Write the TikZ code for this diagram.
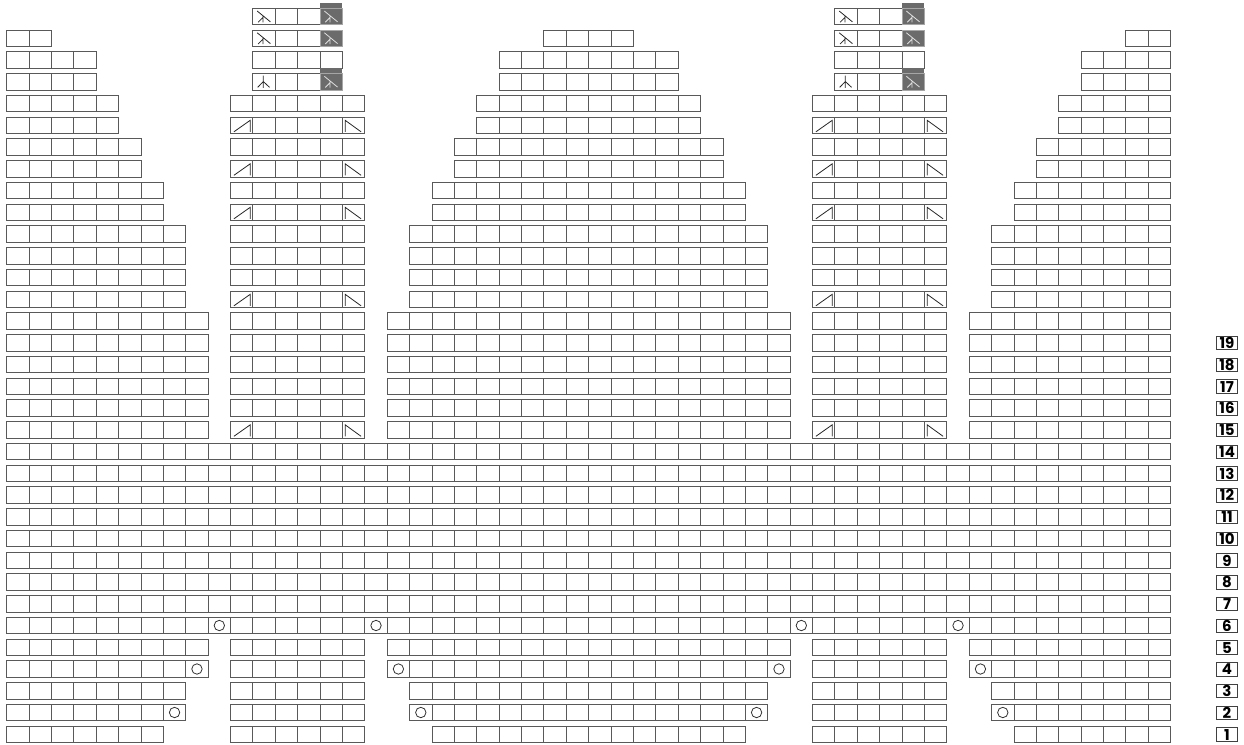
\documentclass[tikz,border=0pt]{standalone}
\usepackage{fontspec}
\newfontfamily\lblfont{Poppins}
\tikzset{
  cellbox/.style={draw=black!65, line width=0.9pt},
  symb/.style={draw=black!85, line width=0.8pt},
  darkfill/.style={fill=black!58},
  darkborder/.style={draw=black!35, line width=0.9pt},
  darksymb/.style={draw=black!12, line width=0.8pt},
  yo/.style={draw=black!80, line width=0.8pt},
  lblbox/.style={draw=black!75, line width=0.9pt, inner sep=0pt,
    minimum width=21pt, minimum height=13.5pt,
    font=\lblfont\bfseries\fontsize{15}{15}\selectfont},
}
\newcommand\seg[3]{\foreach \cc in {#2,...,#3}{\draw[cellbox] ({6.67+22.385*\cc},{726-(#1-1)*21.75}) rectangle ++(22.385,16.5);}}
\newcommand\incell[3]{\begin{scope}[shift={({6.67+22.385*#2},{726-(#1-1)*21.75})}]#3\end{scope}}
\newcommand\decR[2]{\incell{#1}{#2}{\draw[symb] (3.4,14.8) -- (19.7,3.3) -- (19.7,14.8);}}
\newcommand\decL[2]{\incell{#1}{#2}{\draw[symb] (2.7,14.8) -- (2.7,3.3) -- (18.6,14.8);}}
\newcommand\ddecsym[1]{\draw[#1] (4.3,2.8) -- (17.5,13.6) (10,8.2) -- (10,14.2) (10,9.2) -- (5.2,14);}
\newcommand\ddecL[2]{\incell{#1}{#2}{\ddecsym{symb}}}
\newcommand\ddecC[2]{\incell{#1}{#2}{\draw[symb] (10.4,2) -- (10.4,14.3) (10.4,8) -- (4.8,13.8) (10.4,8) -- (16.6,13.8);}}
\newcommand\darkc[3]{\incell{#1}{#2}{\fill[darkfill] (0,-#3) rectangle (22.385,16.5); \draw[darkborder] (0,0) rectangle (22.385,16.5); \ddecsym{darksymb}}}
\newcommand\yarn[2]{\incell{#1}{#2}{\draw[yo] (11.2,8.25) circle (5.2);}}
\begin{document}
\begin{tikzpicture}[x=1pt,y=-1pt]
\useasboundingbox (0,0) rectangle (1244,744);
% row 1
\seg{1}{0}{6}\seg{1}{10}{15}\seg{1}{19}{32}\seg{1}{36}{41}\seg{1}{45}{51}
\foreach \r in {2,3,21,22,23,24}{\seg{\r}{0}{7}\seg{\r}{10}{15}\seg{\r}{18}{33}\seg{\r}{36}{41}\seg{\r}{44}{51}}
\foreach \r in {4,5,15,16,17,18,19,20}{\seg{\r}{0}{8}\seg{\r}{10}{15}\seg{\r}{17}{34}\seg{\r}{36}{41}\seg{\r}{43}{51}}
\foreach \r in {6,...,14}{\seg{\r}{0}{51}}
\foreach \r in {25,26}{\seg{\r}{0}{6}\seg{\r}{10}{15}\seg{\r}{19}{32}\seg{\r}{36}{41}\seg{\r}{45}{51}}
\foreach \r in {27,28}{\seg{\r}{0}{5}\seg{\r}{10}{15}\seg{\r}{20}{31}\seg{\r}{36}{41}\seg{\r}{46}{51}}
\foreach \r in {29,30}{\seg{\r}{0}{4}\seg{\r}{10}{15}\seg{\r}{21}{30}\seg{\r}{36}{41}\seg{\r}{47}{51}}
\foreach \r in {31,32}{\seg{\r}{0}{3}\seg{\r}{11}{14}\seg{\r}{22}{29}\seg{\r}{37}{40}\seg{\r}{48}{51}}
\seg{33}{0}{1}\seg{33}{11}{14}\seg{33}{24}{27}\seg{33}{37}{40}\seg{33}{50}{51}
\seg{34}{11}{14}\seg{34}{37}{40}
% decreases
\foreach \r in {15,21,25,27,29}{\decR{\r}{10}\decL{\r}{15}\decR{\r}{36}\decL{\r}{41}}
% double decreases
\foreach \c in {11,37}{\ddecC{31}{\c}\ddecL{33}{\c}\ddecL{34}{\c}}
\foreach \c in {14,40}{\darkc{31}{\c}{5.5}\darkc{33}{\c}{0}\darkc{34}{\c}{5.3}}
% yarn overs
\foreach \c in {7,18,33,44}{\yarn{2}{\c}}
\foreach \c in {8,17,34,43}{\yarn{4}{\c}}
\foreach \c in {9,16,35,42}{\yarn{6}{\c}}
% row labels
\foreach \r in {1,...,19}{\node[lblbox] (lbl\r) at (1227,{726-(\r-1)*21.75+8.6}) {\r};}
\end{tikzpicture}
\end{document}
